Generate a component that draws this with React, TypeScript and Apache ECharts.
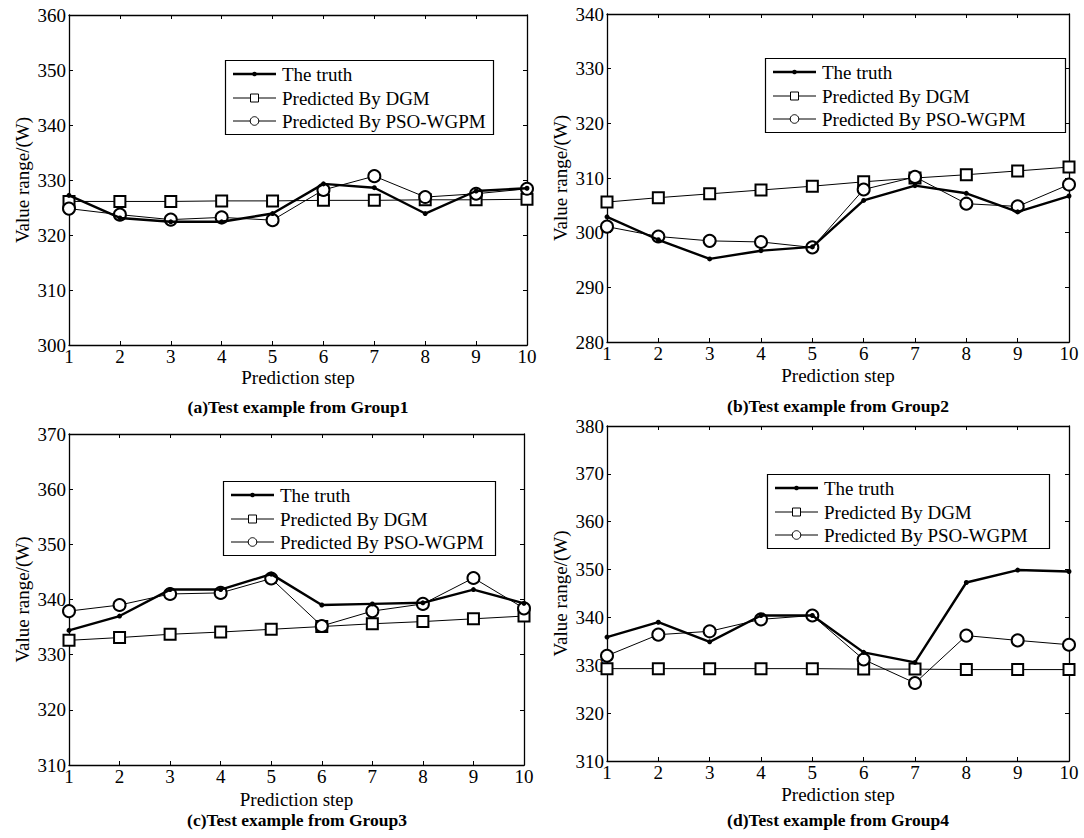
import React, { useEffect, useRef } from "react";
import * as echarts from "echarts";

const steps = ["1", "2", "3", "4", "5", "6", "7", "8", "9", "10"];
const seriesNames = ["The truth", "Predicted By DGM", "Predicted By PSO-WGPM"];

// Group 1
const truth1 = [327.2, 323.1, 322.4, 322.4, 323.9, 329.3, 328.6, 323.9, 328.0, 328.5];
const dgm1 = [326.1, 326.1, 326.1, 326.2, 326.2, 326.3, 326.3, 326.4, 326.4, 326.5];
const pso1 = [324.8, 323.7, 322.8, 323.2, 322.7, 328.2, 330.7, 326.9, 327.5, 328.4];

// Group 2
const truth2 = [302.9, 298.7, 295.2, 296.7, 297.4, 305.9, 308.6, 307.2, 303.8, 306.7];
const dgm2 = [305.6, 306.4, 307.1, 307.8, 308.5, 309.3, 310.0, 310.6, 311.3, 312.0];
const pso2 = [301.1, 299.3, 298.5, 298.3, 297.3, 307.9, 310.2, 305.3, 304.8, 308.8];

// Group 3
const truth3 = [334.4, 337.0, 341.8, 341.8, 344.6, 339.0, 339.2, 339.4, 341.8, 339.3];
const dgm3 = [332.6, 333.1, 333.7, 334.1, 334.6, 335.1, 335.6, 336.0, 336.5, 337.0];
const pso3 = [337.9, 339.0, 341.0, 341.2, 343.8, 335.2, 337.9, 339.2, 343.9, 338.4];

// Group 4
const truth4 = [335.9, 339.0, 334.9, 340.4, 340.4, 332.7, 330.6, 347.3, 349.9, 349.6];
const dgm4 = [329.3, 329.3, 329.3, 329.3, 329.3, 329.2, 329.2, 329.1, 329.1, 329.1];
const pso4 = [332.0, 336.4, 337.1, 339.6, 340.4, 331.2, 326.3, 336.2, 335.2, 334.3];

const yRanges = [
  [300, 360],
  [280, 340],
  [310, 370],
  [310, 380],
];
const titles = [
  "(a)Test example from Group1",
  "(b)Test example from Group2",
  "(c)Test example from Group3",
  "(d)Test example from Group4",
];
const xName = "Prediction step";
const yName = "Value range/(W)";

const FONT = "Liberation Serif";

const grids = [
  { left: 69, top: 15, width: 458, height: 330 },
  { left: 607, top: 14, width: 462, height: 328 },
  { left: 69, top: 434, width: 455, height: 331 },
  { left: 607, top: 426, width: 462, height: 335 },
];
const legendBoxes = [
  { x: 225, y: 60, w: 268 },
  { x: 765, y: 58, w: 300 },
  { x: 223, y: 481, w: 272 },
  { x: 767, y: 474, w: 282 },
];
const titlePos = [
  { x: 298, y: 398 },
  { x: 838, y: 397 },
  { x: 297, y: 811 },
  { x: 838, y: 811 },
];
const xNameGap = [23, 24, 25, 24];

function legendGraphic(b: { x: number; y: number; w: number }) {
  const rows = [14, 38, 61];
  const children: any[] = [
    {
      type: "rect",
      shape: { x: b.x + 0.5, y: b.y + 0.5, width: b.w, height: 74 },
      style: { fill: "#fff", stroke: "#000", lineWidth: 1.2 },
    },
  ];
  const lx0 = b.x + 8;
  const lx1 = b.x + 51;
  const mx = b.x + 29.5;
  rows.forEach((dy, k) => {
    const cy = b.y + dy;
    children.push({
      type: "line",
      shape: { x1: lx0, y1: cy, x2: lx1, y2: cy },
      style: { stroke: "#000", lineWidth: k === 0 ? 2.4 : 1 },
    });
    if (k === 0) {
      children.push({ type: "circle", shape: { cx: mx, cy, r: 2.3 }, style: { fill: "#000" } });
    } else if (k === 1) {
      children.push({
        type: "rect",
        shape: { x: mx - 4, y: cy - 4, width: 8, height: 8 },
        style: { fill: "#fff", stroke: "#000", lineWidth: 1 },
      });
    } else {
      children.push({
        type: "circle",
        shape: { cx: mx, cy, r: 4.3 },
        style: { fill: "#fff", stroke: "#000", lineWidth: 1 },
      });
    }
    children.push({
      type: "text",
      x: b.x + 57,
      y: cy,
      style: {
        text: seriesNames[k],
        fill: "#000",
        font: `19px ${FONT}`,
        fontFamily: FONT,
        fontSize: 19,
        verticalAlign: "middle",
        align: "left",
      },
    });
  });
  return { type: "group", z: 100, children };
}

export default function App() {
  const ref = useRef<HTMLDivElement>(null);
  useEffect(() => {
    if (!ref.current) return;
    const chart = echarts.init(ref.current, null, { renderer: "svg" });
    const data = [
      [truth1, dgm1, pso1],
      [truth2, dgm2, pso2],
      [truth3, dgm3, pso3],
      [truth4, dgm4, pso4],
    ];
    const xAxis: any[] = [];
    const yAxis: any[] = [];
    const series: any[] = [];
    const title: any[] = [];
    const axisLine = { show: true, lineStyle: { color: "#000", width: 1.3 } };
    const tick = { show: true, inside: true, length: 4, lineStyle: { color: "#000" } };
    for (let i = 0; i < 4; i++) {
      xAxis.push({
        type: "category",
        gridIndex: i,
        data: steps,
        boundaryGap: false,
        position: "bottom",
        axisLine,
        axisTick: tick,
        axisLabel: { color: "#000", fontFamily: FONT, fontSize: 19, margin: 2 },
        splitLine: { show: false },
        name: xName,
        nameLocation: "middle",
        nameGap: xNameGap[i],
        nameTextStyle: { color: "#000", fontFamily: FONT, fontSize: 19 },
      });
      yAxis.push({
        type: "value",
        gridIndex: i,
        min: yRanges[i][0],
        max: yRanges[i][1],
        interval: 10,
        position: "left",
        axisLine,
        axisTick: tick,
        axisLabel: { color: "#000", fontFamily: FONT, fontSize: 19, margin: 3 },
        splitLine: { show: false },
        name: yName,
        nameLocation: "middle",
        nameGap: 37,
        nameTextStyle: { color: "#000", fontFamily: FONT, fontSize: 19 },
      });
    }
    for (let i = 0; i < 4; i++) {
      xAxis.push({
        type: "category",
        gridIndex: i,
        data: steps,
        boundaryGap: false,
        position: "top",
        axisLine,
        axisTick: tick,
        axisLabel: { show: false },
        splitLine: { show: false },
      });
      yAxis.push({
        type: "value",
        gridIndex: i,
        min: yRanges[i][0],
        max: yRanges[i][1],
        interval: 10,
        position: "right",
        axisLine,
        axisTick: tick,
        axisLabel: { show: false },
        splitLine: { show: false },
      });
    }
    for (let i = 0; i < 4; i++) {
      const [t, d, p] = data[i];
      series.push({
        type: "line",
        name: seriesNames[0],
        xAxisIndex: i,
        yAxisIndex: i,
        data: t,
        symbol: "circle",
        symbolSize: 5,
        itemStyle: { color: "#000" },
        lineStyle: { color: "#000", width: 2.4 },
        z: 5,
      });
      series.push({
        type: "line",
        name: seriesNames[1],
        xAxisIndex: i,
        yAxisIndex: i,
        data: d,
        symbol: "emptyRect",
        symbolSize: 11,
        itemStyle: { color: "#000", borderColor: "#000", borderWidth: 1 },
        lineStyle: { color: "#000", width: 1 },
        z: 3,
      });
      series.push({
        type: "line",
        name: seriesNames[2],
        xAxisIndex: i,
        yAxisIndex: i,
        data: p,
        symbol: "emptyCircle",
        symbolSize: 12,
        itemStyle: { color: "#000", borderColor: "#000", borderWidth: 1 },
        lineStyle: { color: "#000", width: 1 },
        z: 4,
      });
      title.push({
        text: titles[i],
        left: titlePos[i].x,
        top: titlePos[i].y,
        textAlign: "center",
        padding: 0,
        textStyle: { color: "#000", fontFamily: FONT, fontSize: 17.5, fontWeight: "bold" },
      });
    }
    chart.setOption({
      animation: false,
      backgroundColor: "#fff",
      grid: grids.map((g) => ({ ...g, containLabel: false })),
      xAxis,
      yAxis,
      series,
      title,
      graphic: legendBoxes.map(legendGraphic),
    });
    return () => chart.dispose();
  }, []);
  return (
    <div
      ref={ref}
      style={{ position: "fixed", left: 0, top: 0, width: 1084, height: 838 }}
    />
  );
}
